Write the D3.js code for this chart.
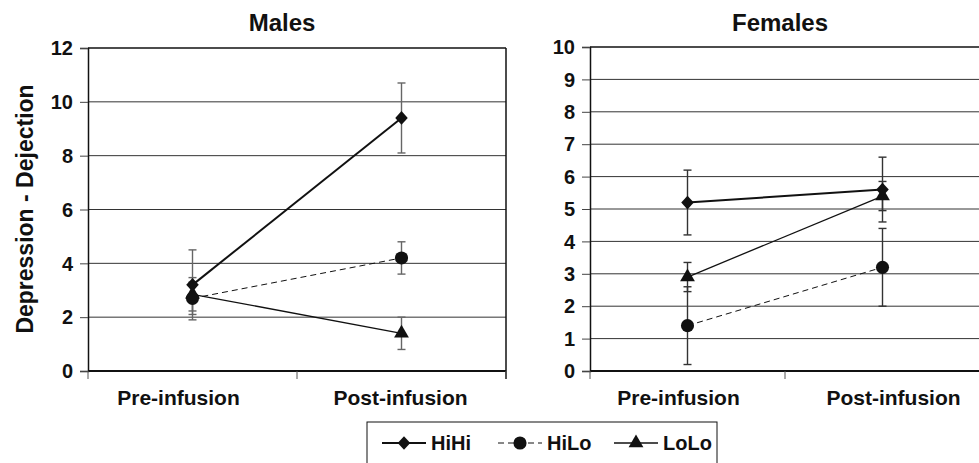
<!DOCTYPE html>
<html>
<head>
<meta charset="utf-8">
<script src="https://cdn.jsdelivr.net/npm/d3@7"></script>
<style>
	body { margin: 0; background: #fff; }
</style>
</head>
<body>
<div id="chart"></div>
<script>
// <!-- ================================= -->
// <!-- DATA -->
// <!-- ================================= -->
var categories = ['Pre-infusion', 'Post-infusion'];
var groups = ['HiHi', 'HiLo', 'LoLo'];

// males: means and error (+/-)
var maleHiHi = [3.2, 9.4];
var maleHiHiErr = [1.3, 1.3];
var maleHiLo = [2.7, 4.2];
var maleHiLoErr = [0.6, 0.6];
var maleLoLo = [2.85, 1.4];
var maleLoLoErr = [0.62, 0.6];
var maleTicks = [0, 2, 4, 6, 8, 10, 12];

// females
var femaleHiHi = [5.2, 5.6];
var femaleHiHiErr = [1.0, 1.0];
var femaleHiLo = [1.4, 3.2];
var femaleHiLoErr = [1.2, 1.2];
var femaleLoLo = [2.9, 5.4];
var femaleLoLoErr = [0.45, 0.45];
var femaleTicks = [0, 1, 2, 3, 4, 5, 6, 7, 8, 9, 10];

var yLabel = 'Depression - Dejection';

// <!-- ================================= -->
// <!-- SETUP -->
// <!-- ================================= -->
var width = 979;
var height = 463;
var FONT = 'Arial, "Liberation Sans", Helvetica, sans-serif';

var svg = d3.select('#chart')
	.append('svg')
	.attr('width', width)
	.attr('height', height)
	.attr('font-family', FONT)
	.attr('font-weight', 'bold');

// diamond drawn as a polygon, nearly square on its tip
var diamond = {
	draw: function (context, size) {
		var w = Math.sqrt(size) * 0.75;
		var h = Math.sqrt(size) * 0.82;
		context.moveTo(0, -h);
		context.lineTo(w, 0);
		context.lineTo(0, h);
		context.lineTo(-w, 0);
		context.closePath();
	}
};

var style = {
	HiHi: { symbol: diamond, size: 70, width: 2, dash: null },
	HiLo: { symbol: d3.symbolCircle, size: 135, width: 1, dash: '6,4' },
	LoLo: { symbol: d3.symbolTriangle, size: 95, width: 1.3, dash: null }
};

var drawPanel = function (opt) {
	var x = d3.scaleBand()
		.domain(categories)
		.range([opt.left, opt.right]);

	var y = d3.scaleLinear()
		.domain([0, d3.max(opt.ticks)])
		.range([opt.bottom, opt.top]);

	var g = svg.append('g');

	// gridlines
	g.selectAll('.grid')
		.data(opt.ticks.filter(function (d) { return d > 0; }))
		.enter()
		.append('line')
		.attr('x1', opt.left)
		.attr('x2', opt.right)
		.attr('y1', function (d) { return y(d); })
		.attr('y2', function (d) { return y(d); })
		.attr('stroke', function (d) { return d === d3.max(opt.ticks) ? '#111' : '#333'; })
		.attr('stroke-width', function (d) { return d === d3.max(opt.ticks) ? 1.5 : 1; });

	// y axis (ticks from d3.axisLeft, labels written with bold text)
	var yAxis = d3.axisLeft(y)
		.tickValues(opt.ticks)
		.tickSize(8)
		.tickFormat('');
	var ya = g.append('g')
		.attr('transform', 'translate(' + opt.left + ',0)')
		.call(yAxis);
	ya.select('.domain').attr('stroke', '#111').attr('stroke-width', 1.5);
	ya.selectAll('.tick line').attr('stroke', '#444');

	g.selectAll('.ylab')
		.data(opt.ticks)
		.enter()
		.append('text')
		.attr('x', opt.left - 15)
		.attr('y', function (d) { return y(d); })
		.attr('dy', '0.36em')
		.attr('text-anchor', 'end')
		.attr('font-size', 20)
		.attr('font-weight', 'bold')
		.attr('font-family', FONT)
		.attr('fill', '#111')
		.text(function (d) { return d; });

	// right border of plot area
	g.append('line')
		.attr('x1', opt.right).attr('x2', opt.right)
		.attr('y1', opt.top).attr('y2', opt.bottom + 8)
		.attr('stroke', '#111').attr('stroke-width', 1.5);

	// category axis
	g.append('line')
		.attr('x1', opt.left).attr('x2', opt.right)
		.attr('y1', opt.bottom).attr('y2', opt.bottom)
		.attr('stroke', '#111').attr('stroke-width', 2);

	var edges = categories.map(function (c) { return x(c); }).concat([opt.right]);
	g.selectAll('.ctick')
		.data(edges)
		.enter()
		.append('line')
		.attr('x1', function (d) { return d; })
		.attr('x2', function (d) { return d; })
		.attr('y1', opt.bottom)
		.attr('y2', opt.bottom + 8)
		.attr('stroke', '#555');

	g.selectAll('.clabel')
		.data(categories)
		.enter()
		.append('text')
		.attr('x', function (d, i) { return x(d) + x.bandwidth() / 2 + opt.labelShift[i]; })
		.attr('y', opt.bottom + 34)
		.attr('text-anchor', 'middle')
		.attr('font-size', 21)
		.attr('fill', '#111')
		.text(function (d) { return d; });

	// title
	g.append('text')
		.attr('x', opt.titleX)
		.attr('y', 31)
		.attr('text-anchor', 'middle')
		.attr('font-size', 24)
		.attr('fill', '#111')
		.text(opt.title);

	var cx = function (i) { return x(categories[i]) + x.bandwidth() / 2; };

	// error bars
	groups.forEach(function (name) {
		var vals = opt.series[name];
		var errs = opt.errors[name];
		vals.forEach(function (v, i) {
			var lo = v - errs[i];
			var hi = v + errs[i];
			g.append('line')
				.attr('x1', cx(i)).attr('x2', cx(i))
				.attr('y1', y(lo)).attr('y2', y(hi))
				.attr('stroke', opt.errColor).attr('stroke-width', 1.4);
			[lo, hi].forEach(function (e) {
				g.append('line')
					.attr('x1', cx(i) - 4).attr('x2', cx(i) + 4)
					.attr('y1', y(e)).attr('y2', y(e))
					.attr('stroke', opt.errColor).attr('stroke-width', 1.4);
			});
		});
	});

	// lines
	var line = d3.line()
		.x(function (d, i) { return cx(i); })
		.y(function (d) { return y(d); });

	groups.slice().reverse().forEach(function (name) {
		g.append('path')
			.datum(opt.series[name])
			.attr('d', line)
			.attr('fill', 'none')
			.attr('stroke', '#111')
			.attr('stroke-width', style[name].width)
			.attr('stroke-dasharray', style[name].dash);
	});

	// markers
	groups.slice().reverse().forEach(function (name) {
		g.selectAll('.m' + name)
			.data(opt.series[name])
			.enter()
			.append('path')
			.attr('d', d3.symbol().type(style[name].symbol).size(style[name].size))
			.attr('transform', function (d, i) { return 'translate(' + cx(i) + ',' + y(d) + ')'; })
			.attr('fill', '#111');
	});
};

drawPanel({
	title: 'Males',
	titleX: 282,
	left: 88, right: 506, top: 48, bottom: 371,
	ticks: maleTicks,
	labelShift: [-14, -1],
	errColor: '#666',
	series: { HiHi: maleHiHi, HiLo: maleHiLo, LoLo: maleLoLo },
	errors: { HiHi: maleHiHiErr, HiLo: maleHiLoErr, LoLo: maleLoLoErr }
});

drawPanel({
	title: 'Females',
	titleX: 780,
	left: 590, right: 980, top: 47, bottom: 371,
	ticks: femaleTicks,
	labelShift: [-9, 11],
	errColor: '#333',
	series: { HiHi: femaleHiHi, HiLo: femaleHiLo, LoLo: femaleLoLo },
	errors: { HiHi: femaleHiHiErr, HiLo: femaleHiLoErr, LoLo: femaleLoLoErr }
});

// y axis title
svg.append('text')
	.attr('transform', 'translate(33,209) rotate(-90)')
	.attr('text-anchor', 'middle')
	.attr('font-size', 23)
	.attr('fill', '#111')
	.text(yLabel);

// <!-- ================================= -->
// <!-- LEGEND -->
// <!-- ================================= -->
var legendX = 367;
var legendY = 422;
var legendStep = 116;

svg.append('rect')
	.attr('x', legendX)
	.attr('y', legendY)
	.attr('width', 350)
	.attr('height', 60)
	.attr('fill', 'none')
	.attr('stroke', '#111')
	.attr('stroke-width', 1);

var legend = svg.selectAll('.legend')
	.data(groups)
	.enter()
	.append('g')
	.attr('class', 'legend')
	.attr('transform', function (d, i) {
		return 'translate(' + (legendX + 15 + i * legendStep) + ',' + (legendY + 21) + ')';
	});

legend.append('line')
	.attr('x1', 0).attr('x2', 44)
	.attr('y1', 0).attr('y2', 0)
	.attr('stroke', '#111')
	.attr('stroke-width', function (d) { return style[d].width; })
	.attr('stroke-dasharray', function (d) { return style[d].dash; });

legend.append('path')
	.attr('d', function (d) { return d3.symbol().type(style[d].symbol).size(style[d].size)(); })
	.attr('transform', 'translate(22,0)')
	.attr('fill', '#111');

legend.append('text')
	.attr('x', 49)
	.attr('y', 7)
	.attr('font-size', 20)
	.attr('fill', '#111')
	.text(function (d) { return d; });
</script>
</body>
</html>
